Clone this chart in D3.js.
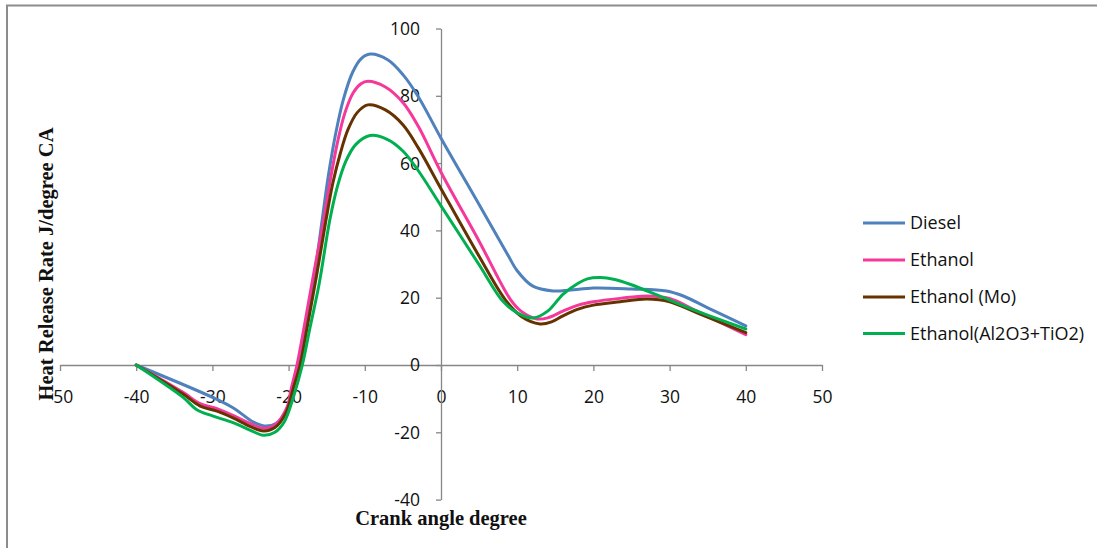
<!DOCTYPE html>
<html><head><meta charset="utf-8">
<script src="https://cdn.jsdelivr.net/npm/d3@7"></script>
<style>
html,body{margin:0;padding:0;background:#fff;}
svg{display:block;}
</style>
</head><body>
<svg id="chart" width="1097" height="548"></svg>
<script>
// ---- data ----
const seriesNames = ["Diesel", "Ethanol", "Ethanol (Mo)", "Ethanol(Al2O3+TiO2)"];
const seriesColors = ["#4F81BD", "#F5389A", "#663300", "#00B050"];
const xTicks = [-50, -40, -30, -20, -10, 0, 10, 20, 30, 40, 50];
const yTicks = [-40, -20, 0, 20, 40, 60, 80, 100];

const diesel = [[-40,0],[-30,-9.6],[-27.3,-12.7],[-24.6,-17],[-23.2,-18.1],[-21.6,-17.3],[-20.3,-13.5],[-19.5,-8],[-18.7,0],[-17.6,14],[-16.4,30],[-15.6,43],[-14.8,56],[-13.8,69],[-12.8,79],[-11.6,87],[-10.5,91],[-9.3,92.4],[-7,90.7],[-5,86.3],[-3,79.8],[0,67.4],[5,47.7],[8.7,33],[10,28],[12,23.5],[14.7,22],[17,22.3],[20,22.9],[25,22.6],[29.6,22],[31.8,20.5],[35,17],[40,11.6]];
const ethanol = [[-40,0],[-33.8,-8.2],[-31.6,-11.5],[-29.4,-13],[-27.3,-15],[-25,-17.4],[-23.3,-18.8],[-21.8,-17.8],[-20.2,-12.5],[-19.6,-6.5],[-18.9,0],[-17.9,12],[-16.8,26],[-15.4,43],[-14.6,54],[-13.6,66],[-12.6,75],[-11.5,81],[-10.5,83.6],[-9.6,84.3],[-7.3,82.6],[-5,78],[-3,71],[0,57.3],[5,36.8],[9.1,19.5],[10.5,16],[12.6,13.7],[14,14],[16,16],[18,17.8],[20,18.8],[23.5,19.8],[27,20.5],[30,19.8],[33.6,16],[40,9]];
const ethanolMo = [[-40,0],[-33.8,-8.7],[-31.6,-12.2],[-29.4,-13.7],[-27.3,-15.7],[-25,-18.3],[-23.3,-19.6],[-21.8,-18.6],[-20.3,-14],[-19.4,-7],[-18.5,0],[-17.5,12],[-16.3,27],[-15.1,43],[-14.2,54],[-13.2,63],[-12.2,70],[-11,75],[-9.6,77.3],[-7.3,75.8],[-5,71.4],[-3,64.6],[0,52.4],[5,32.3],[8.4,19.5],[10.5,14.5],[13,12.2],[14.5,12.8],[16,14.6],[18,16.6],[20,17.8],[23.5,18.8],[27,19.6],[30,18.8],[33.6,15.5],[40,9.6]];
const ethanolAlTi = [[-40,0],[-33.8,-9.7],[-32.1,-13.2],[-29.9,-15.2],[-27.3,-17.1],[-25,-19.4],[-23.3,-20.9],[-21.8,-20],[-20.6,-17],[-19.3,-9],[-18.2,0],[-17.2,11],[-16,24],[-14.6,43],[-13.6,53],[-12.5,60.5],[-11.2,65.5],[-9.3,68.2],[-7,67],[-5,63.6],[-3,57.8],[0,47.3],[5,29.8],[8.1,19],[10,15.5],[12.1,14],[14,16],[16,21],[18,24.3],[19.2,25.6],[20.9,26],[22.8,25.4],[24.8,24],[29.2,20],[33.6,16],[40,10.7]];
const seriesData = [diesel, ethanol, ethanolMo, ethanolAlTi];

// ---- drawing ----
const svg = d3.select("#chart");
const axisColor = "#868686";
const tickFont = "'Open Sans', 'Noto Sans', sans-serif";
const fmt = d => String(d);

// outer border
svg.append("rect").attr("x", 7).attr("y", 5.5).attr("width", 1200).attr("height", 1000)
  .attr("fill", "none").attr("stroke", "#8c8c8c").attr("stroke-width", 2);

const x = d3.scaleLinear().domain([-50, 50]).range([60, 822]);
const y = d3.scaleLinear().domain([-40, 100]).range([499.6, 28.5]);

// x axis
const gx = svg.append("g").attr("transform", `translate(0,${y(0)})`)
  .call(d3.axisBottom(x).tickValues(xTicks).tickSize(6).tickSizeOuter(0).tickFormat(fmt));
gx.select(".domain").attr("stroke", axisColor).attr("stroke-width", 1.3);
gx.selectAll(".tick line").attr("stroke", axisColor).attr("stroke-width", 1.3);
gx.selectAll(".tick text").attr("y", 32).attr("dy", "0.36em")
  .style("font-family", tickFont).style("font-size", "17.5px").attr("fill", "#111");

// y axis
const gy = svg.append("g").attr("transform", `translate(${x(0)},0)`)
  .call(d3.axisLeft(y).tickValues(yTicks).tickSize(5).tickSizeOuter(0).tickPadding(16).tickFormat(fmt));
gy.select(".domain").attr("stroke", axisColor).attr("stroke-width", 1.3);
gy.selectAll(".tick line").attr("stroke", axisColor).attr("stroke-width", 1.3);
gy.selectAll(".tick text").attr("dy", "0.34em")
  .style("font-family", tickFont).style("font-size", "17.5px").attr("fill", "#111");

// lines
const line = d3.line().x(d => x(d[0])).y(d => y(d[1])).curve(d3.curveCatmullRom.alpha(0.5));
seriesData.forEach((s, i) => {
  svg.append("path").datum(s).attr("d", line)
    .attr("fill", "none").attr("stroke", seriesColors[i]).attr("stroke-width", 3)
    .attr("stroke-linejoin", "round").attr("stroke-linecap", "round");
});

// axis titles
svg.append("text").attr("x", 441).attr("y", 525).attr("text-anchor", "middle")
  .style("font-family", "'Liberation Serif', 'Times New Roman', serif").style("font-weight", "bold")
  .style("font-size", "20.5px").attr("fill", "#111").text("Crank angle degree");
svg.append("text").attr("transform", "translate(53,264) rotate(-90)").attr("text-anchor", "middle")
  .style("font-family", "'Liberation Serif', 'Times New Roman', serif").style("font-weight", "bold")
  .style("font-size", "20.5px").attr("fill", "#111").text("Heat Release Rate J/degree CA");

// legend
const legY = [223, 260, 297, 333.5];
const leg = svg.append("g");
seriesNames.forEach((n, i) => {
  leg.append("line").attr("x1", 863).attr("x2", 905).attr("y1", legY[i]).attr("y2", legY[i])
    .attr("stroke", seriesColors[i]).attr("stroke-width", 3);
  leg.append("text").attr("x", 910).attr("y", legY[i]).attr("dy", "0.36em")
    .style("font-family", tickFont).style("font-size", "18px").attr("fill", "#111").text(n);
});
</script>
</body></html>
